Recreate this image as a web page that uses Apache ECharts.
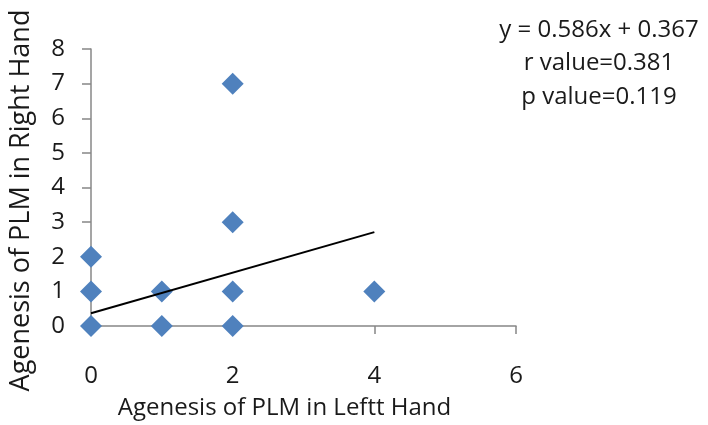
<!DOCTYPE html>
<html><head><meta charset="utf-8">
<script src="https://cdn.jsdelivr.net/npm/echarts@6/dist/echarts.min.js"></script>
<style>html,body{margin:0;padding:0;background:#fff}#c{width:708px;height:425px}</style>
</head><body><div id="c"></div>
<script>
var xValues = [0, 0, 0, 1, 1, 2, 2, 2, 2, 4];
var yValues = [0, 1, 2, 0, 1, 0, 1, 3, 7, 1];
var slope = 0.586, intercept = 0.367;
var trendX = [0, 4];
var xTicks = [0, 2, 4, 6];
var yTicks = [0, 1, 2, 3, 4, 5, 6, 7, 8];
var annotationLines = ['y = 0.586x + 0.367', 'r value=0.381', 'p value=0.119'];

var FONT = 'Open Sans';
var chart = echarts.init(document.getElementById('c'), null, {renderer: 'canvas'});
var pts = xValues.map(function (x, i) { return [x, yValues[i]]; });
var trend = trendX.map(function (x) { return [x, intercept + slope * x]; });
chart.setOption({
  animation: false,
  grid: {left: 90, right: 192, top: 49, bottom: 97},
  xAxis: {
    type: 'value', min: xTicks[0], max: xTicks[xTicks.length - 1], interval: xTicks[1] - xTicks[0],
    name: 'Agenesis of PLM in Leftt Hand', nameLocation: 'middle', nameGap: 70,
    nameTextStyle: {fontFamily: FONT, fontSize: 24, color: '#1a1a1a', padding: [0, 38, 0, 0]},
    axisLine: {lineStyle: {color: '#878787', width: 1.5}},
    axisTick: {show: true, length: 8, lineStyle: {color: '#878787', width: 1.5}},
    axisLabel: {fontFamily: FONT, fontSize: 24, color: '#1a1a1a', margin: 38},
    splitLine: {show: false}
  },
  yAxis: {
    type: 'value', min: yTicks[0], max: yTicks[yTicks.length - 1], interval: yTicks[1] - yTicks[0],
    name: 'Agenesis of PLM in Right Hand', nameLocation: 'middle', nameGap: 56,
    nameTextStyle: {fontFamily: FONT, fontSize: 27, color: '#1a1a1a', padding: [0, 26, 0, 0]},
    axisLine: {lineStyle: {color: '#878787', width: 1.5}},
    axisTick: {show: true, length: 9, lineStyle: {color: '#878787', width: 1.5}},
    axisLabel: {fontFamily: FONT, fontSize: 24, color: '#1a1a1a', margin: 26},
    splitLine: {show: false}
  },
  series: [
    {type: 'line', data: trend, symbol: 'none', lineStyle: {color: '#000', width: 2}, z: 3},
    {type: 'scatter', data: pts, symbol: 'diamond', symbolSize: 22, itemStyle: {color: '#4F81BD', opacity: 1}, z: 2}
  ],
  graphic: annotationLines.map(function (t, i) {
    return {type: 'text', x: 599, y: 30 + i * 33.5, style: {text: t, textAlign: 'center', textVerticalAlign: 'middle', fontFamily: FONT, fontSize: 24, fill: '#1a1a1a'}};
  })
});
</script></body></html>
